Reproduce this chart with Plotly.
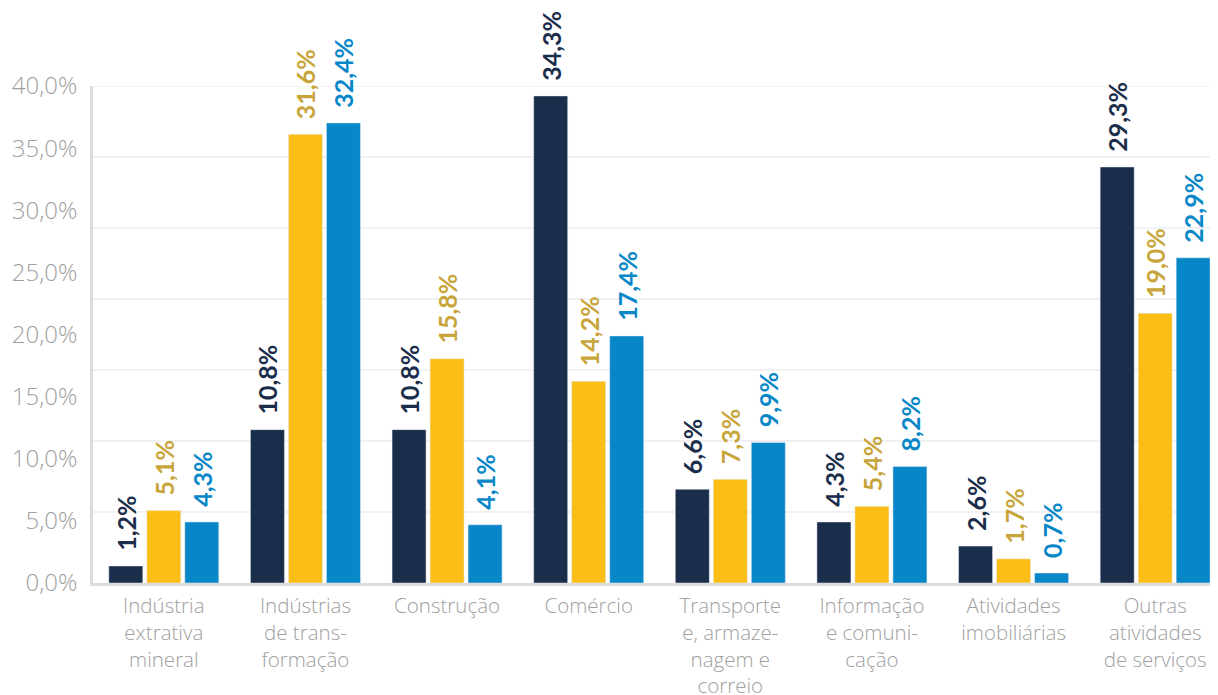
import plotly.graph_objects as go

categories = [
    "Indústria<br>extrativa<br>mineral",
    "Indústrias<br>de trans-<br>formação",
    "Construção",
    "Comércio",
    "Transporte<br>e, armaze-<br>nagem e<br>correio",
    "Informação<br>e comuni-<br>cação",
    "Atividades<br>imobiliárias",
    "Outras<br>atividades<br>de serviços",
]

serie_a = [1.2, 10.8, 10.8, 34.3, 6.6, 4.3, 2.6, 29.3]
serie_b = [5.1, 31.6, 15.8, 14.2, 7.3, 5.4, 1.7, 19.0]
serie_c = [4.3, 32.4, 4.1, 17.4, 9.9, 8.2, 0.7, 22.9]

# the printed axis labels do not line up with the bars in the original:
# nine labels are spread evenly over the 0-35 gridline span
tick_labels = ["0,0%", "5,0%", "10,0%", "15,0%", "20,0%", "25,0%", "30,0%", "35,0%", "40,0%"]
grid_levels = [5, 10, 15, 20, 25, 30, 35]
y_max = 35

NAVY = "#1a2d4b"
YELLOW = "#fbbe17"
BLUE = "#0887c8"
GOLD_TEXT = "#c8a53a"
GRAY_TEXT = "#a0a0a0"


def fmt(values):
    return ["\u00a0\u00a0" + f"{v:.1f}".replace(".", ",") + "%" for v in values]


fig = go.Figure()
for name, vals, bar_col, txt_col in [
    ("A", serie_a, NAVY, NAVY),
    ("B", serie_b, YELLOW, GOLD_TEXT),
    ("C", serie_c, BLUE, BLUE),
]:
    fig.add_trace(
        go.Bar(
            name=name,
            x=categories,
            y=vals,
            marker_color=bar_col,
            text=fmt(vals),
            textposition="outside",
            textangle=-90,
            constraintext="none",
            cliponaxis=False,
            textfont=dict(family="Lato", size=25, color=txt_col, weight="bold"),
            hoverinfo="none",
        )
    )

for g in grid_levels:
    fig.add_shape(
        type="line", xref="paper", x0=0, x1=1, yref="y", y0=g, y1=g,
        line=dict(color="#ededed", width=1.5), layer="below",
    )

fig.update_layout(
    width=1218,
    height=695,
    margin={"t": 78, "l": 85, "b": 120, "r": 0},
    plot_bgcolor="white",
    paper_bgcolor="white",
    showlegend=False,
    barmode="group",
    bargap=0.195,
    bargroupgap=0.105,
    font=dict(family="Open Sans"),
)

fig.update_yaxes(
    range=[0, y_max],
    tickvals=[i * y_max / 8 for i in range(9)],
    ticktext=tick_labels,
    tickfont=dict(family="Open Sans", size=24, color=GRAY_TEXT, weight=300),
    showgrid=False,
    zeroline=False,
    showline=True,
    linecolor="#dcdcdc",
    linewidth=2.5,
    ticks="",
    ticklabelstandoff=8,
)

fig.update_xaxes(
    tickfont=dict(family="Open Sans", size=20.5, color=GRAY_TEXT, weight=300),
    showline=True,
    linecolor="#dcdcdc",
    linewidth=2.5,
    ticks="",
    ticklabelstandoff=3,
    tickangle=0,
)

fig.write_html("out.html")
